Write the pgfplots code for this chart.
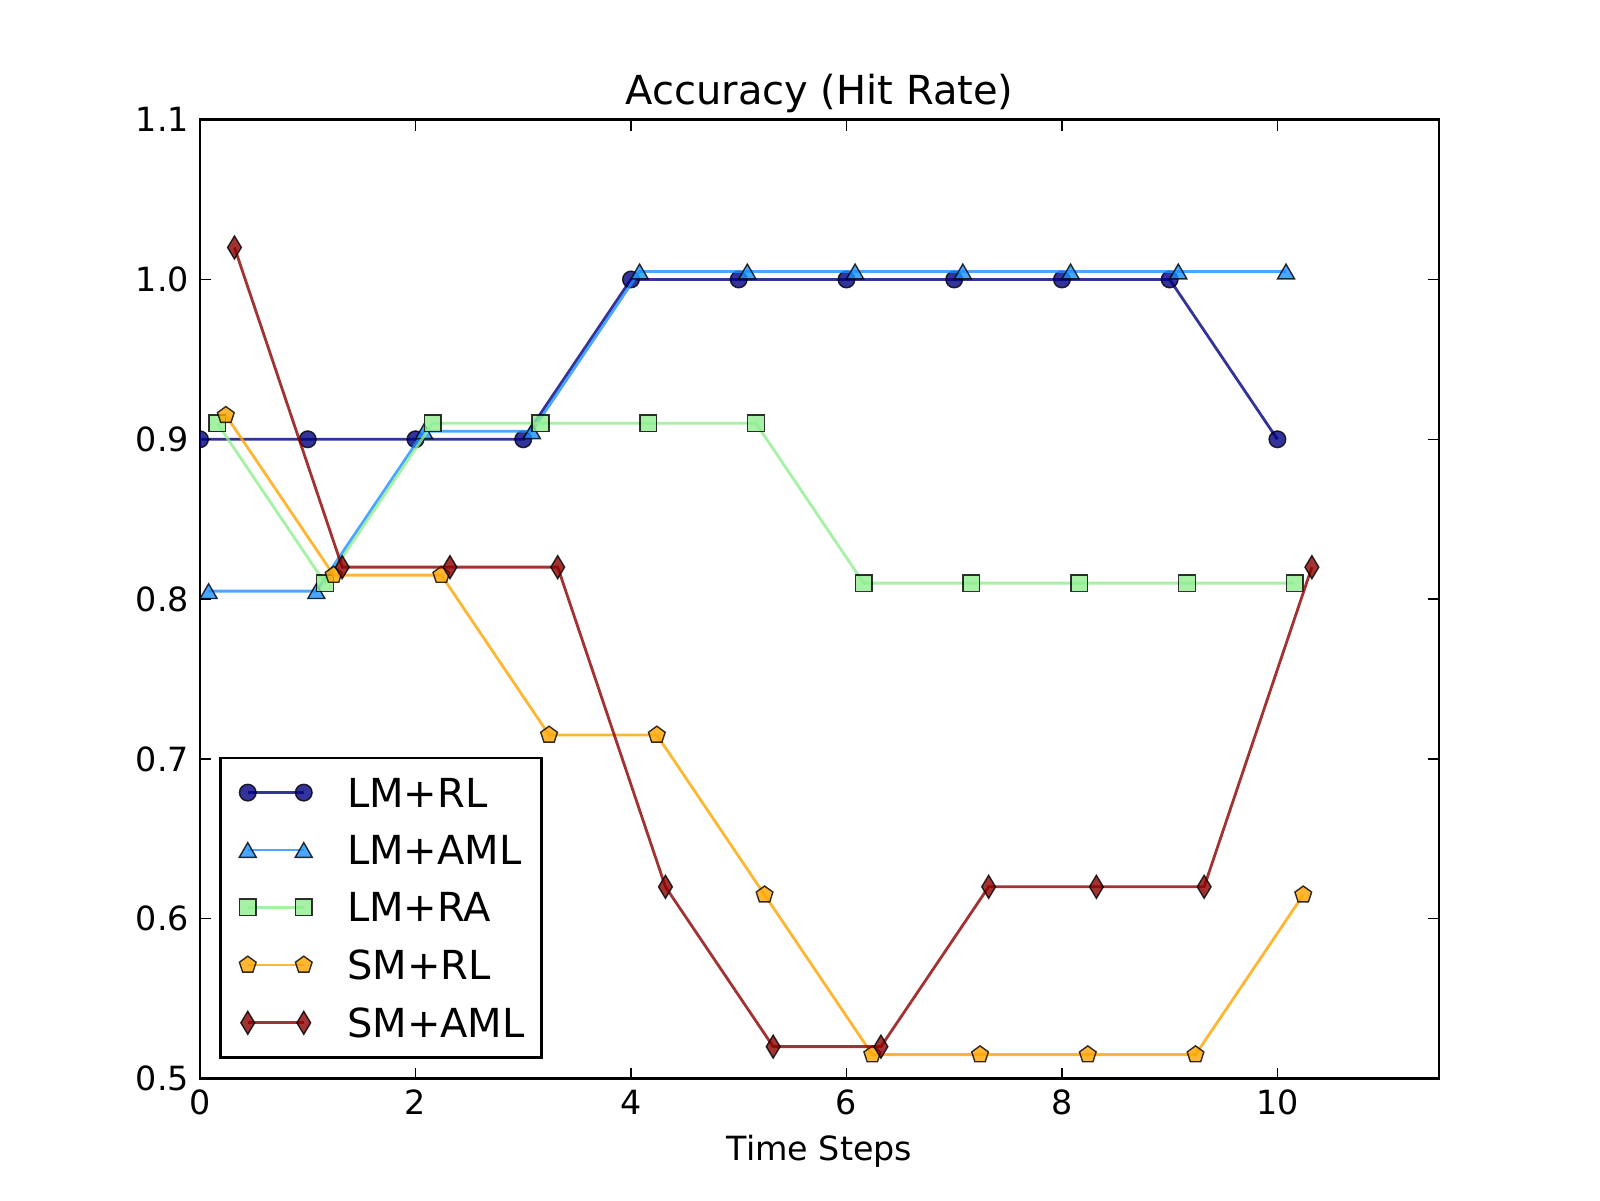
\documentclass[border=0pt]{standalone}
\usepackage{fontspec}
\setmainfont{DejaVu Sans}
\usepackage{pgfplots}
\pgfplotsset{compat=1.18}
\definecolor{cA}{RGB}{0,0,128}
\definecolor{cB}{RGB}{30,144,255}
\definecolor{cC}{RGB}{144,238,144}
\definecolor{cD}{RGB}{255,165,0}
\definecolor{cE}{RGB}{139,0,0}
\begin{document}
\fontsize{9.48pt}{11pt}\selectfont
\begin{tikzpicture}
\path[use as bounding box] (0,0) rectangle (16cm,12cm);
\begin{axis}[
  at={(2.0cm,1.214cm)}, anchor=south west,
  scale only axis, width=12.39cm, height=9.59cm,
  xmin=0, xmax=11.5, ymin=0.5, ymax=1.1,
  xtick={0,2,4,6,8,10},
  ytick={0.5,0.6,0.7,0.8,0.9,1.0,1.1},
  y tick label style={/pgf/number format/fixed, /pgf/number format/precision=1, /pgf/number format/fixed zerofill},
  /pgf/number format/assume math mode=true,
  tick style={black, line width=0.4pt},
  major tick length=1.1mm,
  axis line style={line width=0.79pt},
  title={Accuracy (Hit Rate)},
  every axis title/.style={at={(axis description cs:0.5,1)}, anchor=base, yshift=1.5mm, inner sep=0pt, font=\fontsize{11.38pt}{13pt}\selectfont},
  xlabel={Time Steps},
  xlabel style={at={(axis description cs:0.5,0)}, anchor=base, yshift=-8.2mm, inner sep=0pt},
  xticklabel style={anchor=north, inner sep=0pt, yshift=-1.05mm},
  yticklabel style={anchor=east, inner sep=0pt, xshift=-1.05mm},
  clip marker paths=true,
  legend style={at={(axis description cs:0.0153,0.0204)}, anchor=south west, draw=black, line width=0.79pt,
    font=\fontsize{11.38pt}{13pt}\selectfont, inner xsep=1.7mm, inner ysep=2.0mm, row sep=2.82mm,
    cells={anchor=west}, nodes={inner sep=0pt, text depth=0pt}},
  legend image code/.code={\path (-0.9mm,0) (9.8mm,0); \draw[#1] plot coordinates {(0cm,0cm) (0.56cm,0cm)};},
]
\addplot[cA, line width=0.8pt, opacity=0.8, mark=*, mark size=2.37pt, mark options={solid, draw=black, fill=cA, line width=0.4pt}]
coordinates {(0,0.9)(1,0.9)(2,0.9)(3,0.9)(4,1.0)(5,1.0)(6,1.0)(7,1.0)(8,1.0)(9,1.0)(10,0.9)};
\addplot[cB, line width=0.8pt, opacity=0.8, mark=triangle*, mark size=2.8pt, mark options={solid, draw=black, fill=cB, line width=0.4pt, yshift=-0.7pt}]
coordinates {(0.08,0.805)(1.08,0.805)(2.08,0.905)(3.08,0.905)(4.08,1.005)(5.08,1.005)(6.08,1.005)(7.08,1.005)(8.08,1.005)(9.08,1.005)(10.08,1.005)};
\addplot[cC, line width=0.8pt, opacity=0.8, mark=square*, mark size=2.37pt, mark options={solid, draw=black, fill=cC, line width=0.4pt}]
coordinates {(0.16,0.91)(1.16,0.81)(2.16,0.91)(3.16,0.91)(4.16,0.91)(5.16,0.91)(6.16,0.81)(7.16,0.81)(8.16,0.81)(9.16,0.81)(10.16,0.81)};
\addplot[cD, line width=0.8pt, opacity=0.8, mark=pentagon*, mark size=2.5pt, mark options={solid, draw=black, fill=cD, line width=0.4pt}]
coordinates {(0.24,0.915)(1.24,0.815)(2.24,0.815)(3.24,0.715)(4.24,0.715)(5.24,0.615)(6.24,0.515)(7.24,0.515)(8.24,0.515)(9.24,0.515)(10.24,0.615)};
\addplot[cE, line width=0.8pt, opacity=0.8, mark=diamond*, mark size=3.27pt, mark options={solid, draw=black, fill=cE, line width=0.4pt, xscale=0.8}]
coordinates {(0.32,1.02)(1.32,0.82)(2.32,0.82)(3.32,0.82)(4.32,0.62)(5.32,0.52)(6.32,0.52)(7.32,0.62)(8.32,0.62)(9.32,0.62)(10.32,0.82)};
\legend{LM+RL,LM+AML,LM+RA,SM+RL,SM+AML}
\end{axis}
\end{tikzpicture}
\end{document}
